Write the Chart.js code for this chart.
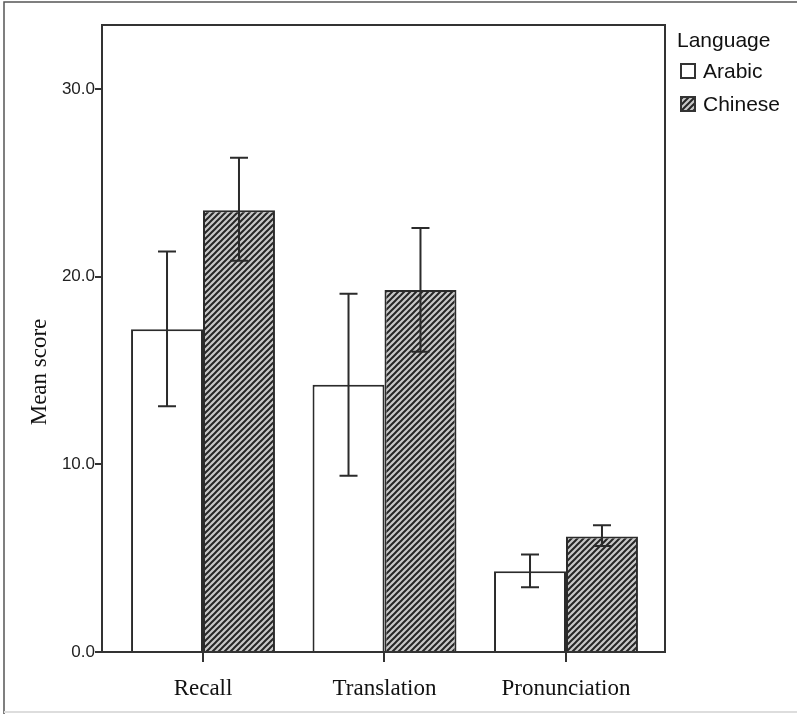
<!DOCTYPE html>
<html>
<head>
<meta charset="utf-8">
<script src="https://cdn.jsdelivr.net/npm/chart.js@4.4.0/dist/chart.umd.min.js"></script>
<style>
html,body{margin:0;padding:0;background:#fff;}
#wrap{width:797px;height:714px;position:relative;}
</style>
</head>
<body>
<div id="wrap"><canvas id="c" width="797" height="714"></canvas></div>
<script>
const categories = ['Recall', 'Translation', 'Pronunciation'];
const seriesNames = ['Arabic', 'Chinese'];
const arabicMeans = [17.2, 14.25, 4.3];
const chineseMeans = [23.55, 19.3, 6.15];
const arabicLow = [13.1, 9.4, 3.45];
const arabicHigh = [21.35, 19.1, 5.2];
const chineseLow = [20.85, 16.0, 5.65];
const chineseHigh = [26.35, 22.6, 6.75];
const yTicks = [0, 10, 20, 30];
const yMax = 33.42;
const xMin = -0.5565;
const xMax = 2.5455;
const yTitle = 'Mean score';
const legendTitle = 'Language';

function makeHatch() {
  const s = 6;
  const c = document.createElement('canvas');
  c.width = s; c.height = s;
  const g = c.getContext('2d');
  g.fillStyle = '#c8c8c8';
  g.fillRect(0, 0, s, s);
  g.strokeStyle = '#262626';
  g.lineWidth = 2;
  g.beginPath();
  g.moveTo(-1, s + 1); g.lineTo(s + 1, -1);
  g.moveTo(-1, 1); g.lineTo(1, -1);
  g.moveTo(s - 1, s + 1); g.lineTo(s + 1, s - 1);
  g.stroke();
  return document.getElementById('c').getContext('2d').createPattern(c, 'repeat');
}
const hatch = makeHatch();

const errorBars = {
  id: 'errorBars',
  afterDatasetsDraw(chart) {
    const ctx = chart.ctx;
    const ca = chart.chartArea;
    ctx.save();
    ctx.strokeStyle = '#333';
    ctx.lineWidth = 2;
    ctx.strokeRect(ca.left, ca.top, ca.right - ca.left, ca.bottom - ca.top);
    const y = chart.scales.y;
    const lows = [arabicLow, chineseLow];
    const highs = [arabicHigh, chineseHigh];
    ctx.strokeStyle = '#2b2b2b';
    ctx.lineWidth = 2;
    for (let d = 0; d < 2; d++) {
      const meta = chart.getDatasetMeta(d);
      meta.data.forEach((bar, i) => {
        const x = bar.x;
        const yl = y.getPixelForValue(lows[d][i]);
        const yh = y.getPixelForValue(highs[d][i]);
        ctx.beginPath();
        ctx.moveTo(x, yl); ctx.lineTo(x, yh);
        ctx.moveTo(x - 9, yl); ctx.lineTo(x + 9, yl);
        ctx.moveTo(x - 9, yh); ctx.lineTo(x + 9, yh);
        ctx.stroke();
      });
    }
    ctx.restore();
  },
  afterDraw(chart) {
    const ctx = chart.ctx;
    ctx.save();
    ctx.strokeStyle = '#555';
    ctx.lineWidth = 1.5;
    ctx.beginPath();
    ctx.moveTo(4, 714); ctx.lineTo(4, 2); ctx.lineTo(797, 2);
    ctx.stroke();
    ctx.strokeStyle = '#ddd';
    ctx.lineWidth = 2;
    ctx.beginPath();
    ctx.moveTo(4, 712); ctx.lineTo(797, 712);
    ctx.stroke();
    ctx.fillStyle = '#111';
    ctx.font = '23px "Liberation Serif"';
    ctx.textAlign = 'center';
    ctx.textBaseline = 'middle';
    ctx.translate(40, 372);
    ctx.rotate(-Math.PI / 2);
    ctx.fillText(yTitle, 0, 0);
    ctx.restore();
    ctx.save();
    ctx.fillStyle = '#111';
    ctx.font = '21px "Liberation Sans"';
    ctx.textAlign = 'left';
    ctx.textBaseline = 'alphabetic';
    ctx.fillText(legendTitle, 677, 47);
    const fills = ['#ffffff', hatch];
    const ys = [64, 97];
    for (let i = 0; i < 2; i++) {
      ctx.fillStyle = fills[i];
      ctx.fillRect(681, ys[i], 14, 14);
      ctx.strokeStyle = '#333';
      ctx.lineWidth = 2;
      ctx.strokeRect(681, ys[i], 14, 14);
      ctx.fillStyle = '#111';
      ctx.fillText(seriesNames[i], 703, ys[i] + 14);
    }
    ctx.restore();
  }
};

new Chart(document.getElementById('c'), {
  type: 'bar',
  data: {
    labels: categories,
    datasets: [
      { label: seriesNames[0], data: arabicMeans.map((v, i) => ({ x: i, y: v })), backgroundColor: '#ffffff', borderColor: '#2b2b2b', borderWidth: 2 },
      { label: seriesNames[1], data: chineseMeans.map((v, i) => ({ x: i, y: v })), backgroundColor: hatch, borderColor: '#2b2b2b', borderWidth: 2 }
    ]
  },
  options: {
    responsive: false,
    animation: false,
    devicePixelRatio: 1,
    layout: { padding: { top: 25, right: 132, left: 0, bottom: 0 } },
    plugins: { legend: { display: false }, tooltip: { enabled: false } },
    datasets: { bar: { categoryPercentage: 0.793, barPercentage: 1.0 } },
    scales: {
      x: {
        type: 'linear',
        min: xMin, max: xMax,
        offset: false,
        afterBuildTicks: s => { s.ticks = categories.map((c, i) => ({ value: i })); },
        grid: { display: true, offset: false, drawOnChartArea: false, drawTicks: true, tickLength: 10, color: '#333', lineWidth: 2 },
        border: { display: false },
        ticks: { autoSkip: false, maxRotation: 0, color: '#111', font: { family: 'Liberation Serif', size: 23 }, padding: 13, callback: v => categories[v] },
        afterFit: s => { s.height = 62; }
      },
      y: {
        min: 0, max: yMax,
        afterBuildTicks: s => { s.ticks = yTicks.map(v => ({ value: v })); },
        grid: { display: true, drawOnChartArea: false, drawTicks: true, tickLength: 7, color: '#333', lineWidth: 2 },
        border: { display: false },
        ticks: { color: '#222', font: { family: 'Liberation Sans', size: 17 }, padding: 0, callback: v => Number(v).toFixed(1) },
        afterFit: s => { s.width = 102; }
      }
    }
  },
  plugins: [errorBars]
});
</script>
</body>
</html>
